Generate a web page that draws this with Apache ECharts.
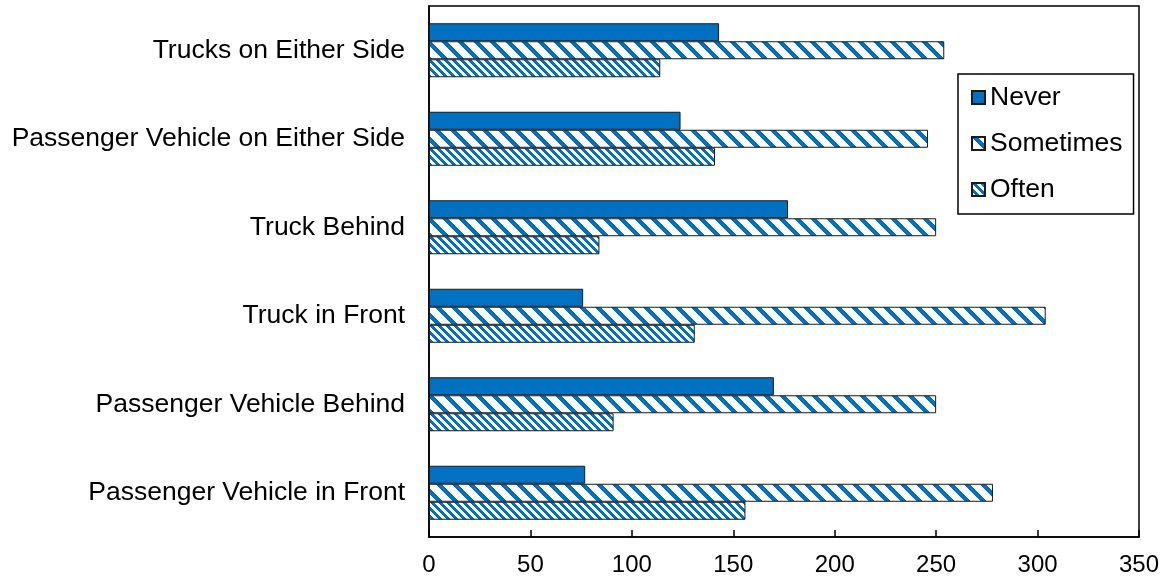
<!DOCTYPE html>
<html>
<head>
<meta charset="utf-8">
<script src="https://cdn.jsdelivr.net/npm/echarts@6/dist/echarts.min.js"></script>
<style>
  html, body { margin: 0; padding: 0; background: #fff; }
  #chart { width: 1168px; height: 583px; }
</style>
</head>
<body>
<div id="chart"></div>
<script>
// categories listed top to bottom
const categories = [
  'Trucks on Either Side',
  'Passenger Vehicle on Either Side',
  'Truck Behind',
  'Truck in Front',
  'Passenger Vehicle Behind',
  'Passenger Vehicle in Front'
]
const never = [143, 124, 177, 76, 170, 77]
const sometimes = [254, 246, 250, 304, 250, 278]
const often = [114, 141, 84, 131, 91, 156]
const xTicks = [0, 50, 100, 150, 200, 250, 300, 350]

const BLUE = '#0070C0'
const FONT = '"Liberation Sans", Arial, sans-serif'

// diagonal "\" stripe tile
function stripes(period, width) {
  const c = document.createElement('canvas')
  c.width = period
  c.height = period
  const ctx = c.getContext('2d')
  const img = ctx.createImageData(period, period)
  for (let y = 0; y < period; y++) {
    for (let x = 0; x < period; x++) {
      const i = (y * period + x) * 4
      const on = (((x - y) % period) + period) % period < width
      img.data[i] = on ? 0 : 255
      img.data[i + 1] = on ? 112 : 255
      img.data[i + 2] = on ? 192 : 255
      img.data[i + 3] = 255
    }
  }
  ctx.putImageData(img, 0, 0)
  return c
}

const wide = { image: stripes(16, 6), repeat: 'repeat' }
const narrow = { image: stripes(8, 4), repeat: 'repeat' }

const chart = echarts.init(document.getElementById('chart'))

const barBase = {
  type: 'bar',
  barWidth: 18,
  barGap: '0%',
  animation: false
}

chart.setOption({
  animation: false,
  grid: {
    left: 429,
    top: 6,
    width: 710,
    height: 531,
    show: true,
    borderColor: '#000',
    borderWidth: 1.5,
    backgroundColor: '#fff'
  },
  legend: {
    orient: 'vertical',
    left: 958,
    top: 74,
    padding: [10, 11, 11, 13],
    itemWidth: 13,
    itemHeight: 13,
    itemGap: 19,
    borderColor: '#000',
    borderWidth: 1.5,
    backgroundColor: '#fff',
    icon: 'rect',
    textStyle: { fontSize: 26.5, color: '#000', fontFamily: FONT },
    data: ['Never', 'Sometimes', 'Often']
  },
  xAxis: {
    type: 'value',
    min: xTicks[0],
    max: xTicks[xTicks.length - 1],
    interval: 50,
    axisLine: { show: true, lineStyle: { color: '#000', width: 1.5 } },
    axisTick: { show: true, inside: true, length: 7, lineStyle: { color: '#000', width: 1.5 } },
    splitLine: { show: false },
    axisLabel: { color: '#000', fontSize: 24, fontFamily: FONT, margin: 16 }
  },
  yAxis: {
    type: 'category',
    inverse: true,
    data: categories,
    axisLine: { show: true, lineStyle: { color: '#000', width: 1.5 } },
    axisTick: { show: false },
    axisLabel: { color: '#000', fontSize: 26.5, fontFamily: FONT, margin: 24 }
  },
  series: [
    Object.assign({}, barBase, {
      name: 'Never',
      data: never,
      itemStyle: { color: BLUE, borderColor: '#1a1a1a', borderWidth: 1 }
    }),
    Object.assign({}, barBase, {
      name: 'Sometimes',
      data: sometimes,
      itemStyle: { color: wide, borderColor: '#1a1a1a', borderWidth: 1 }
    }),
    Object.assign({}, barBase, {
      name: 'Often',
      data: often,
      itemStyle: { color: narrow, borderColor: '#1a1a1a', borderWidth: 1 }
    })
  ]
})

window.addEventListener('resize', () => chart.resize())
</script>
</body>
</html>
